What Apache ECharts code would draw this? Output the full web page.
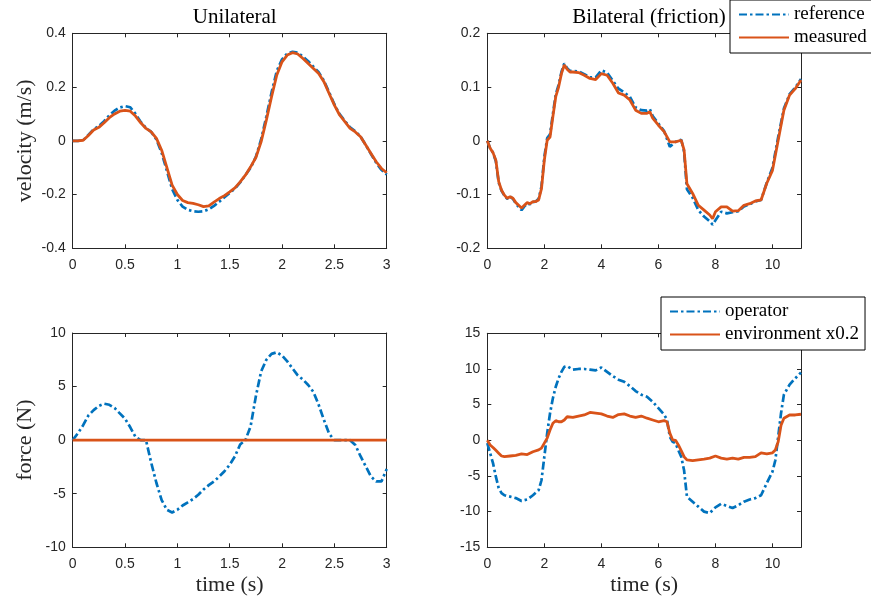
<!DOCTYPE html>
<html lang="en">
<head>
    <meta charset="UTF-8">
    <title>Unilateral / Bilateral</title>
    <script src="https://cdn.jsdelivr.net/npm/echarts@6/dist/echarts.min.js"></script>
    <style>
        html, body { margin: 0; padding: 0; background: #fff; }
        #main { width: 871px; height: 601px; }
    </style>
</head>
<body>
    <div id="main"></div>
    <script>
        // ---- data ----
        // unilateral, velocity + force (0..3 s, step 0.05)
        var tUni = [0,0.05,0.1,0.15,0.2,0.25,0.3,0.35,0.4,0.45,0.5,0.55,0.6,0.65,0.7,0.75,0.8,0.85,0.9,0.95,
                    1,1.05,1.1,1.15,1.2,1.25,1.3,1.35,1.4,1.45,1.5,1.55,1.6,1.65,1.7,1.75,1.8,1.85,1.9,1.95,
                    2,2.05,2.1,2.15,2.2,2.25,2.3,2.35,2.4,2.45,2.5,2.55,2.6,2.65,2.7,2.75,2.8,2.85,2.9,2.95,3];
        var velRefUni = [0,0,0.002,0.022,0.043,0.055,0.073,0.095,0.112,0.124,0.129,0.125,0.10,0.07,0.048,0.033,0.005,-0.045,-0.112,-0.18,
                         -0.22,-0.245,-0.257,-0.262,-0.264,-0.262,-0.255,-0.242,-0.227,-0.21,-0.194,-0.178,-0.155,-0.128,-0.1,-0.06,0.005,0.09,0.18,0.26,
                         0.303,0.325,0.331,0.328,0.313,0.296,0.276,0.255,0.224,0.18,0.136,0.099,0.074,0.05,0.035,0.016,-0.016,-0.049,-0.082,-0.108,-0.125];
        var velMeasUni = [0,0,0.002,0.02,0.04,0.05,0.067,0.086,0.10,0.11,0.113,0.11,0.092,0.067,0.046,0.033,0.009,-0.035,-0.10,-0.165,
                          -0.20,-0.222,-0.23,-0.233,-0.238,-0.245,-0.242,-0.228,-0.215,-0.204,-0.19,-0.175,-0.153,-0.128,-0.097,-0.062,-0.004,0.077,0.164,0.245,
                          0.294,0.319,0.328,0.323,0.306,0.288,0.269,0.25,0.22,0.176,0.133,0.096,0.071,0.046,0.033,0.015,-0.016,-0.047,-0.078,-0.103,-0.119];
        var forceOpUni = [0,0.65,1.4,2.3,2.8,3.2,3.4,3.3,3.0,2.5,2.0,1.2,0.3,0,0,-2.1,-4.0,-5.6,-6.5,-6.75,
                          -6.5,-6.1,-5.8,-5.5,-5.1,-4.6,-4.2,-3.85,-3.4,-2.9,-2.3,-1.5,-0.4,0,1.3,4.1,6.4,7.5,8.05,8.2,
                          7.9,7.35,6.7,6.05,5.65,5.15,4.5,3.3,1.9,0.6,0,0,0,0,-0.45,-1.5,-2.45,-3.4,-3.85,-3.85,-2.7];
        var forceEnvUni = [0,0,0,0,0,0,0,0,0,0,0,0,0,0,0,0,0,0,0,0,
                           0,0,0,0,0,0,0,0,0,0,0,0,0,0,0,0,0,0,0,0,
                           0,0,0,0,0,0,0,0,0,0,0,0,0,0,0,0,0,0,0,0,0];

        // bilateral (friction), velocity
        var tBiVel = [0,0.1,0.2,0.3,0.4,0.5,0.6,0.7,0.8,0.9,1.0,1.1,1.2,1.3,1.4,1.5,1.6,1.7,1.8,1.9,
                      2.0,2.1,2.2,2.3,2.4,2.5,2.6,2.7,2.8,2.9,3.0,3.2,3.4,3.6,3.8,4.0,4.2,4.4,4.6,4.8,
                      5.0,5.2,5.4,5.6,5.7,5.8,6.0,6.2,6.4,6.6,6.8,6.9,7.0,7.2,7.4,7.6,7.8,7.9,
                      8.0,8.2,8.4,8.6,8.8,9.0,9.2,9.4,9.6,9.8,10.0,10.2,10.4,10.6,10.8,11.0];
        var velRefBi = [0,-0.014,-0.022,-0.038,-0.078,-0.093,-0.102,-0.108,-0.104,-0.108,-0.117,-0.123,-0.129,-0.122,-0.117,-0.118,-0.114,-0.113,-0.108,-0.085,
                        -0.03,0.005,0.012,0.05,0.086,0.104,0.128,0.144,0.135,0.13,0.13,0.129,0.124,0.118,0.118,0.131,0.127,0.112,0.097,0.09,
                        0.082,0.062,0.057,0.056,0.059,0.046,0.032,0.018,-0.011,-0.002,0.002,-0.02,-0.09,-0.106,-0.129,-0.141,-0.15,-0.156,
                        -0.148,-0.132,-0.135,-0.133,-0.131,-0.122,-0.118,-0.113,-0.11,-0.078,-0.05,0.007,0.06,0.087,0.099,0.115];
        var velMeasBi = [0,-0.014,-0.022,-0.036,-0.076,-0.092,-0.101,-0.107,-0.104,-0.107,-0.115,-0.12,-0.125,-0.12,-0.115,-0.117,-0.113,-0.113,-0.11,-0.089,
                         -0.036,0.001,0.007,0.045,0.082,0.10,0.125,0.141,0.133,0.128,0.128,0.127,0.122,0.116,0.114,0.125,0.122,0.107,0.089,0.085,
                         0.076,0.057,0.051,0.051,0.054,0.042,0.029,0.017,-0.002,-0.002,0.001,-0.017,-0.08,-0.098,-0.12,-0.129,-0.138,-0.145,
                         -0.132,-0.123,-0.123,-0.131,-0.13,-0.12,-0.117,-0.112,-0.11,-0.079,-0.055,0.001,0.057,0.085,0.097,0.113];

        // bilateral (friction), force
        var tBiForce = [0,0.1,0.2,0.3,0.4,0.5,0.6,0.8,1.0,1.2,1.4,1.6,1.8,1.9,2.0,2.1,2.2,2.3,2.4,2.5,
                        2.6,2.7,2.8,3.0,3.2,3.4,3.6,3.8,4.0,4.2,4.4,4.6,4.8,5.0,5.2,5.4,5.6,5.8,6.0,6.2,
                        6.3,6.4,6.5,6.6,6.7,6.8,6.9,7.0,7.2,7.4,7.6,7.8,8.0,8.2,8.4,8.6,8.8,9.0,9.2,9.4,
                        9.6,9.8,10.0,10.1,10.2,10.3,10.4,10.6,10.8,11.0];
        var forceOpBi = [-0.4,-1.8,-3.2,-5.1,-6.7,-7.4,-7.7,-7.9,-8.1,-8.5,-8.3,-7.7,-7.0,-5.6,-2.3,1.0,3.8,5.9,7.5,8.7,
                         9.6,10.3,10.4,9.9,10.0,10.0,9.9,9.8,10.2,9.6,9.0,8.5,8.2,7.6,6.9,6.4,6.1,5.4,4.5,3.6,
                         2.9,0.5,-0.2,-0.4,-1.4,-2.3,-4.2,-7.9,-8.6,-9.3,-10.0,-10.2,-9.4,-8.9,-9.2,-9.5,-9.1,-8.6,-8.3,-8.1,
                         -7.7,-6.0,-4.4,-2.8,0.5,3.8,6.4,7.8,8.7,9.5];
        var forceEnvBi = [0,-0.65,-1.0,-1.4,-1.8,-2.2,-2.3,-2.2,-2.1,-1.9,-2.0,-1.6,-1.35,-1.1,-0.4,0.3,1.45,2.4,2.75,2.6,
                          2.6,2.85,3.3,3.2,3.4,3.55,3.9,3.8,3.7,3.4,3.2,3.6,3.7,3.4,3.2,3.4,3.1,2.85,2.6,2.75,
                          2.6,1.0,0.05,0,-0.65,-1.45,-2.3,-2.75,-2.85,-2.75,-2.65,-2.5,-2.2,-2.5,-2.65,-2.5,-2.65,-2.4,-2.4,-2.3,
                          -1.75,-1.9,-1.75,-1.35,-0.2,2.1,3.1,3.55,3.55,3.65];

        function pairs(t, v) {
            return t.map(function (x, i) { return [x, v[i]]; });
        }

        var axisColor = '#262626';
        var serif = 'Liberation Serif';
        var sans = 'Liberation Sans';
        var blue = '#0072BD';
        var orange = '#D95319';

        var grids = [
            {left: 72.7, top: 33.3, width: 314, height: 215},
            {left: 487.3, top: 33.3, width: 313.7, height: 215},
            {left: 72.7, top: 333, width: 314, height: 214.3},
            {left: 487.3, top: 333.3, width: 313.7, height: 214}
        ];

        function xAx(gi, min, max, interval, isTop, name) {
            return {
                type: 'value', gridIndex: gi, position: isTop ? 'top' : 'bottom',
                min: min, max: max, interval: interval,
                name: name || '', nameLocation: 'middle', nameGap: 27,
                nameTextStyle: {fontFamily: serif, fontSize: 22, color: axisColor},
                axisLine: {show: true, onZero: false, lineStyle: {color: axisColor, width: 1}},
                axisTick: {show: true, inside: true, length: 4, lineStyle: {color: axisColor}},
                axisLabel: {show: !isTop, margin: 10, fontFamily: sans, fontSize: 14, color: axisColor, showMaxLabel: max === 11 ? false : null},
                splitLine: {show: false}
            };
        }
        function yAx(gi, min, max, interval, isRight, name) {
            return {
                type: 'value', gridIndex: gi, position: isRight ? 'right' : 'left',
                min: min, max: max, interval: interval,
                name: name || '', nameLocation: 'middle', nameGap: 36,
                nameTextStyle: {fontFamily: serif, fontSize: 22, color: axisColor},
                axisLine: {show: true, onZero: false, lineStyle: {color: axisColor, width: 1}},
                axisTick: {show: true, inside: true, length: 4, lineStyle: {color: axisColor}},
                axisLabel: {show: !isRight, margin: 7, fontFamily: sans, fontSize: 14, color: axisColor},
                splitLine: {show: false}
            };
        }

        function refLine(name, xi, data) {
            return {name: name, type: 'line', xAxisIndex: xi, yAxisIndex: xi, data: data,
                    symbol: 'none', showSymbol: false, color: blue,
                    lineStyle: {color: blue, width: 2.7, type: [8, 3, 2.5, 3]}};
        }
        function measLine(name, xi, data) {
            return {name: name, type: 'line', xAxisIndex: xi, yAxisIndex: xi, data: data,
                    symbol: 'none', showSymbol: false, color: orange,
                    lineStyle: {color: orange, width: 2.8}};
        }

        var legendStyle = {
            orient: 'vertical', itemWidth: 50, itemHeight: 14, itemGap: 4,
            padding: [5, 6, 6, 8], backgroundColor: '#fff', borderColor: '#000', borderWidth: 1,
            selectedMode: false,
            itemStyle: {opacity: 0},
            textStyle: {fontFamily: serif, fontSize: 19, color: '#000'}
        };

        var myChart = echarts.init(document.getElementById('main'));
        var option = {
            animation: false,
            backgroundColor: '#fff',
            title: [
                {text: 'Unilateral', left: 229.7, top: 2, textAlign: 'center',
                 textStyle: {fontFamily: serif, fontSize: 21, fontWeight: 'normal', color: '#000'}},
                {text: 'Bilateral (friction)', left: 644, top: 2, textAlign: 'center',
                 textStyle: {fontFamily: serif, fontSize: 21, fontWeight: 'normal', color: '#000'}}
            ],
            legend: [
                Object.assign({left: 730, top: 0, data: ['reference', 'measured']}, legendStyle),
                Object.assign({left: 661, top: 297, data: ['operator', 'environment x0.2']}, legendStyle)
            ],
            grid: grids,
            xAxis: [
                xAx(0, 0, 3, 0.5, false),
                xAx(1, 0, 11, 2, false),
                xAx(2, 0, 3, 0.5, false, 'time (s)'),
                xAx(3, 0, 11, 2, false, 'time (s)'),
                xAx(0, 0, 3, 0.5, true),
                xAx(1, 0, 11, 2, true),
                xAx(2, 0, 3, 0.5, true),
                xAx(3, 0, 11, 2, true)
            ],
            yAxis: [
                yAx(0, -0.4, 0.4, 0.2, false, 'velocity (m/s)'),
                yAx(1, -0.2, 0.2, 0.1, false),
                yAx(2, -10, 10, 5, false, 'force (N)'),
                yAx(3, -15, 15, 5, false),
                yAx(0, -0.4, 0.4, 0.2, true),
                yAx(1, -0.2, 0.2, 0.1, true),
                yAx(2, -10, 10, 5, true),
                yAx(3, -15, 15, 5, true)
            ],
            series: [
                refLine('reference', 0, pairs(tUni, velRefUni)),
                measLine('measured', 0, pairs(tUni, velMeasUni)),
                refLine('reference', 1, pairs(tBiVel, velRefBi)),
                measLine('measured', 1, pairs(tBiVel, velMeasBi)),
                refLine('operator', 2, pairs(tUni, forceOpUni)),
                measLine('environment x0.2', 2, pairs(tUni, forceEnvUni)),
                refLine('operator', 3, pairs(tBiForce, forceOpBi)),
                measLine('environment x0.2', 3, pairs(tBiForce, forceEnvBi))
            ]
        };
        myChart.setOption(option);
    </script>
</body>
</html>
